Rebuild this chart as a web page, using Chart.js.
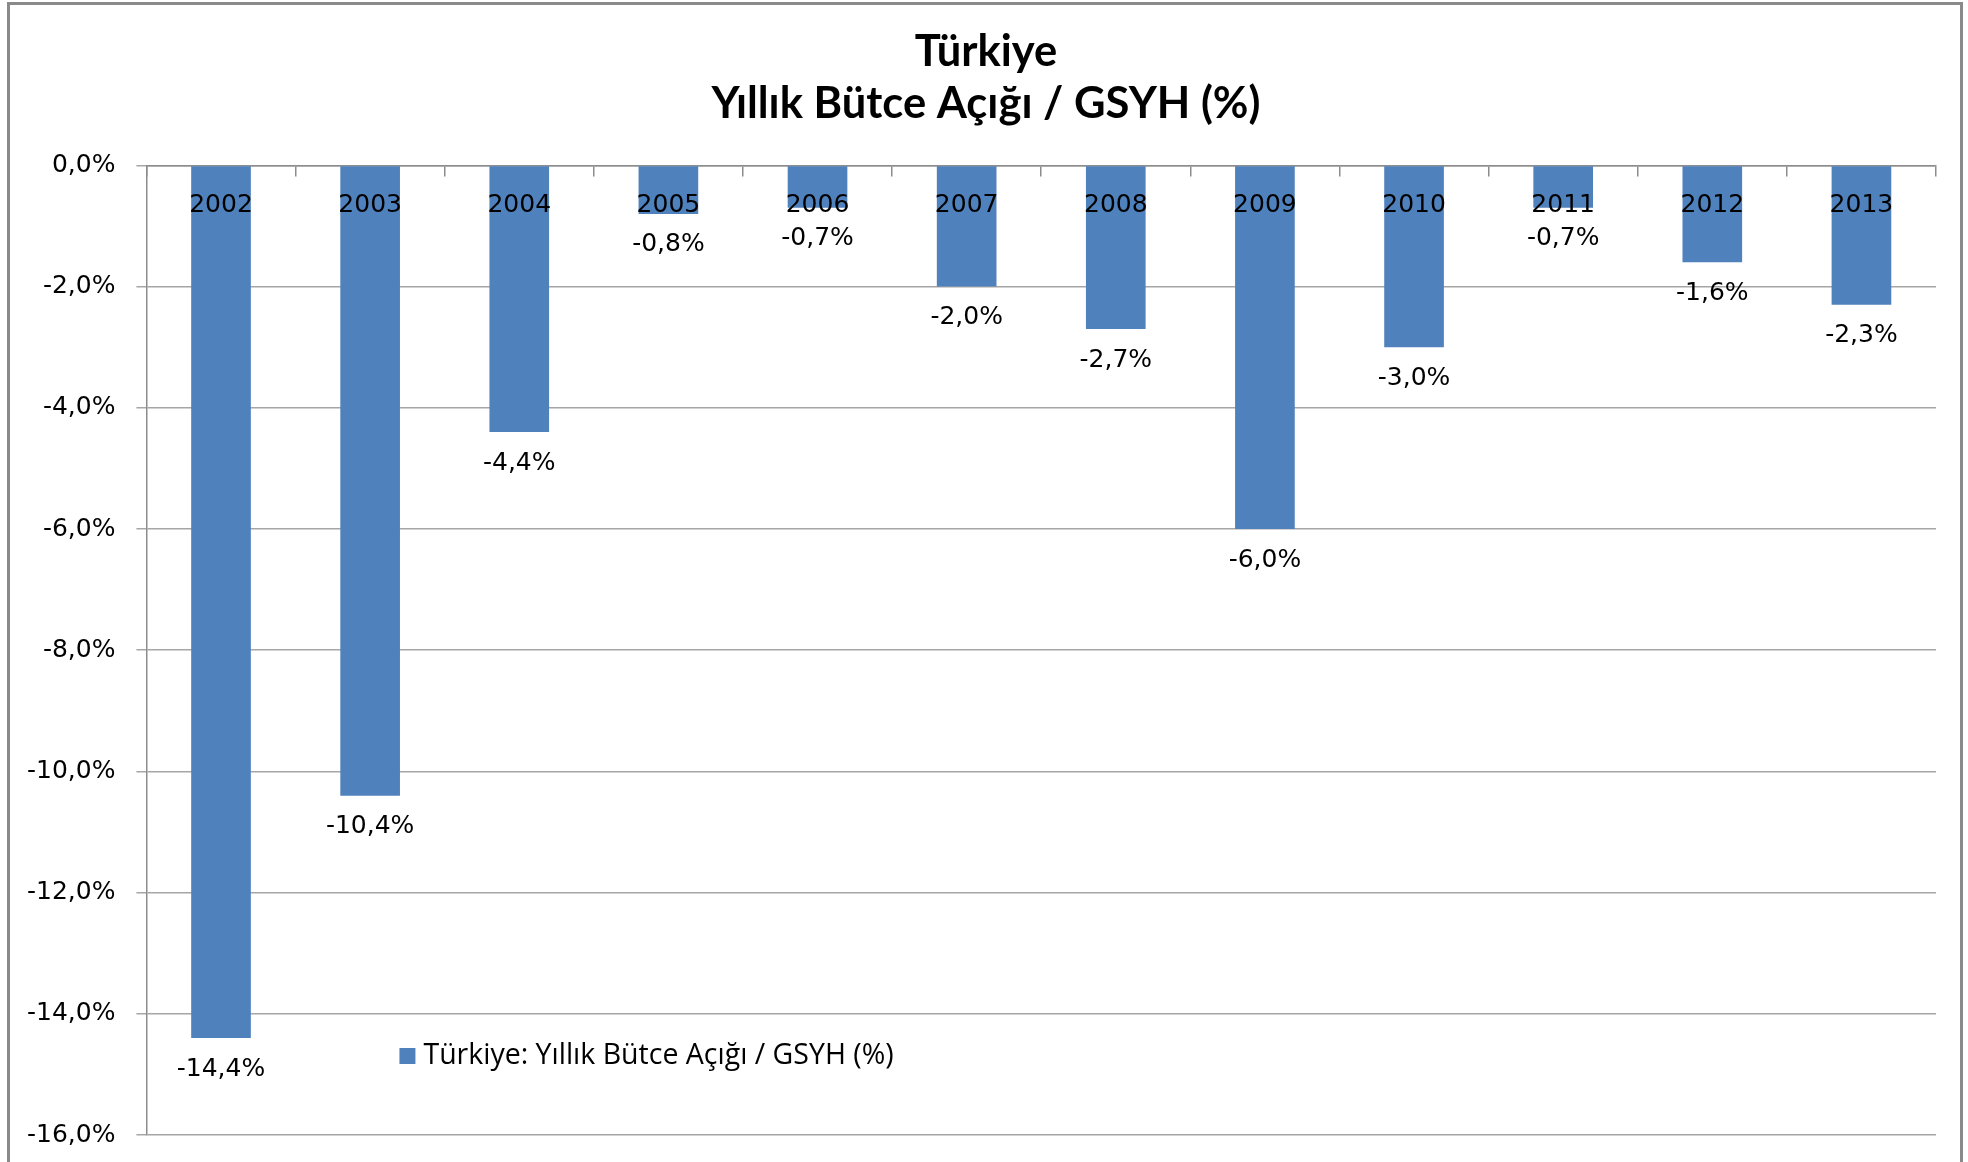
<!DOCTYPE html>
<html>
<head>
    <title>Türkiye Yıllık Bütce Açığı / GSYH</title>
    <script src="https://cdn.jsdelivr.net/npm/chart.js@4.4.1/dist/chart.umd.min.js"></script>
    <style>
        body { margin: 0; background: #fff; overflow: hidden; }
        .frame {
            position: absolute; left: 7px; top: 2px; width: 1950px; height: 1200px;
            border: 3px solid #8a8a8a; border-bottom: none; pointer-events: none;
        }
        canvas { position: absolute; left: 0; top: 0; }
    </style>
</head>
<body>
    <!-- a bit taller than the window: the bottom of the original frame is cut off -->
    <canvas id="deficitChart" width="1968" height="1171"></canvas>
    <div class="frame"></div>

    <script>
        // Data
        const years = ['2002', '2003', '2004', '2005', '2006', '2007', '2008', '2009', '2010', '2011', '2012', '2013'];
        const deficitPct = [-14.4, -10.4, -4.4, -0.8, -0.7, -2.0, -2.7, -6.0, -3.0, -0.7, -1.6, -2.3];
        const seriesName = 'Türkiye: Yıllık Bütce Açığı / GSYH (%)';
        const titleLines = ['Türkiye', 'Yıllık Bütce Açığı / GSYH (%)'];

        const numFont = 'DejaVu Sans';
        const barColor = '#4f81bd';

        // comma decimals, like the original
        function fmt(v) {
            return v.toFixed(1).replace('.', ',') + '%';
        }

        // value labels under each bar end
        const valueLabels = {
            id: 'valueLabels',
            afterDatasetsDraw(chart) {
                const ctx = chart.ctx;
                const meta = chart.getDatasetMeta(0);
                ctx.save();
                ctx.font = '25px "' + numFont + '"';
                ctx.fillStyle = '#000';
                ctx.textAlign = 'center';
                ctx.textBaseline = 'middle';
                meta.data.forEach((bar, i) => {
                    ctx.fillText(fmt(chart.data.datasets[0].data[i]), bar.x, bar.y + 31);
                });
                ctx.restore();
            }
        };

        // legend sits inside the plot, lower left
        const innerLegend = {
            id: 'innerLegend',
            afterDraw(chart) {
                const ctx = chart.ctx;
                const area = chart.chartArea;
                const x = area.left + 253;
                const y = area.bottom - 79;
                ctx.save();
                ctx.fillStyle = barColor;
                ctx.fillRect(x, y - 8, 16, 16);
                ctx.font = '28.5px "Open Sans"';
                ctx.fillStyle = '#000';
                ctx.textBaseline = 'middle';
                ctx.fillText(chart.data.datasets[0].label, x + 24, y);
                ctx.restore();
            }
        };

        // original title is centred on the whole frame, not between the paddings
        const titleShift = {
            id: 'titleShift',
            afterLayout(chart) {
                if (chart.titleBlock) chart.titleBlock.left += 30;
            }
        };

        const ctx = document.getElementById('deficitChart').getContext('2d');
        const chart = new Chart(ctx, {
            type: 'bar',
            data: {
                labels: years,
                datasets: [{
                    label: seriesName,
                    data: deficitPct,
                    backgroundColor: barColor,
                    categoryPercentage: 1.0,
                    barPercentage: 0.4
                }]
            },
            options: {
                responsive: false,
                animation: false,
                layout: {
                    padding: { left: 6, right: 32, top: 26, bottom: 6 }
                },
                plugins: {
                    legend: { display: false },
                    tooltip: { enabled: false },
                    title: {
                        display: true,
                        text: titleLines,
                        color: '#000',
                        font: { family: 'Lato', size: 43.5, weight: 'bold', lineHeight: 1.2 },
                        padding: { top: 0, bottom: 35 }
                    }
                },
                scales: {
                    x: {
                        position: { y: 0 },
                        grid: {
                            offset: true,
                            drawOnChartArea: false,
                            drawTicks: true,
                            tickLength: 10,
                            color: '#8c8c8c',
                            lineWidth: 1.5
                        },
                        border: { display: true, color: '#8c8c8c', width: 1.5 },
                        ticks: {
                            z: 1,
                            color: '#000',
                            padding: 15,
                            maxRotation: 0,
                            font: { family: numFont, size: 25 }
                        }
                    },
                    y: {
                        min: -16,
                        max: 0,
                        grid: {
                            color: '#a6a6a6',
                            lineWidth: 1.5,
                            tickLength: 10
                        },
                        border: { display: true, color: '#8c8c8c', width: 1.5 },
                        ticks: {
                            stepSize: 2,
                            color: '#000',
                            padding: 21,
                            font: { family: numFont, size: 25 },
                            callback: (v) => fmt(v)
                        }
                    }
                }
            },
            plugins: [valueLabels, innerLegend, titleShift]
        });
    </script>
</body>
</html>
